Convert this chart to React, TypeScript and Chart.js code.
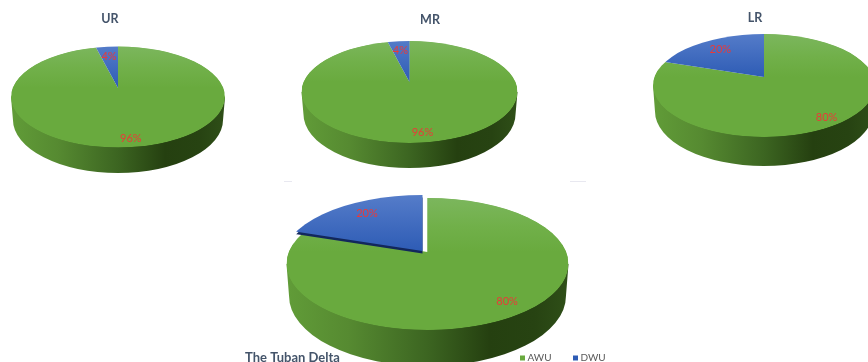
import React, { useEffect, useRef } from "react";
import { Chart, registerables } from "chart.js";

Chart.register(...registerables);

// Water-use shares per river reach, in percent.
const seriesNames = ["AWU", "DWU"];
const panelTitles = ["UR", "MR", "LR", "The Tuban Delta"];
const awuShare = [96, 96, 80, 80];
const dwuShare = [4, 4, 20, 20];

// Placement of each tilted disc on the page.
const discs = [
  { cx: 118, cy: 97, a: 107, b: 50.5, tip: 9, wallBottom: 173, titleX: 110, titleY: 19, dx: 0, dy: 0, clipDy: 0, rim: 0, labelDy: 2 },
  { cx: 409.5, cy: 92, a: 108, b: 51, tip: 10, wallBottom: 168, titleX: 430, titleY: 20, dx: 0, dy: 0, clipDy: 0, rim: 0, labelDy: 2 },
  { cx: 764, cy: 85.5, a: 111, b: 51.5, tip: 8.5, wallBottom: 166, titleX: 755, titleY: 18, dx: 0, dy: 0, clipDy: 0, rim: 0, labelDy: 0.5 },
  { cx: 427.5, cy: 264, a: 141, b: 66, tip: 12, wallBottom: 366, titleX: 292.5, titleY: 358, dx: -5, dy: -1, clipDy: -3, rim: 2.5, labelDy: -2 },
];

const GREEN = "#69aa3e";
const BLUE = "#2e5cb5";
const LABEL_RED = "#ea3a38";
const TITLE_INK = "#44546a";
const LEGEND_INK = "#595959";
const FONT = "Lato, 'Open Sans', sans-serif";

type Disc = (typeof discs)[number];

function ellipsePath(ctx: CanvasRenderingContext2D, d: Disc, ox = 0, oy = 0) {
  ctx.beginPath();
  ctx.ellipse(d.cx + ox, d.cy + oy, d.a, d.b, 0, 0, Math.PI * 2);
}

// Side wall of the disc: lower half of a slightly narrower ellipse, lit from the left.
function drawWall(ctx: CanvasRenderingContext2D, d: Disc) {
  const inset = d.a * 0.018;
  const bottomB = d.b * 1.06;
  const wallCy = d.wallBottom - bottomB;
  const g = ctx.createLinearGradient(d.cx - d.a, 0, d.cx + d.a, 0);
  g.addColorStop(0, "#619c38");
  g.addColorStop(0.22, "#568a31");
  g.addColorStop(0.5, "#3c6521");
  g.addColorStop(0.72, "#254010");
  g.addColorStop(0.88, "#274312");
  g.addColorStop(1, "#2f4f18");
  ctx.fillStyle = g;
  ctx.beginPath();
  ctx.moveTo(d.cx - d.a, d.cy);
  ctx.lineTo(d.cx - d.a + inset, wallCy);
  ctx.ellipse(d.cx, wallCy, d.a - inset, bottomB, 0, Math.PI, 0, true);
  ctx.lineTo(d.cx + d.a, d.cy);
  ctx.closePath();
  ctx.fill();
}

function facePlugin(index: number) {
  const d = discs[index];
  return {
    id: "tiltedFace",
    beforeDatasetsDraw(chart: any) {
      const ctx: CanvasRenderingContext2D = chart.ctx;
      const arcs = chart.getDatasetMeta(0).data;
      const [awuArc, dwuArc] = arcs;
      const r = awuArc.outerRadius;
      // Maps the library's round pie on to the ellipse of the top face.
      const project = (ox: number, oy: number) => {
        ctx.translate(d.cx + ox, d.cy + oy);
        ctx.scale(d.a / r, d.b / r);
        ctx.translate(-awuArc.x, -awuArc.y);
      };

      drawWall(ctx, d);

      ctx.save();
      ellipsePath(ctx, d);
      ctx.clip();
      ctx.save();
      project(0, 0);
      awuArc.draw(ctx);
      ctx.restore();
      ctx.save();
      project(0, -d.tip);
      awuArc.draw(ctx);
      ctx.restore();
      ctx.restore();

      if (d.rim) {
        ctx.save();
        ellipsePath(ctx, d, d.dx, d.clipDy + d.rim);
        ctx.clip();
        project(d.dx, d.dy - d.tip + d.rim);
        ctx.fillStyle = "#12275c";
        ctx.beginPath();
        ctx.moveTo(dwuArc.x, dwuArc.y);
        ctx.arc(dwuArc.x, dwuArc.y, r, dwuArc.startAngle, dwuArc.endAngle);
        ctx.closePath();
        ctx.fill();
        ctx.restore();
      }

      ctx.save();
      ellipsePath(ctx, d, d.dx, d.clipDy);
      ctx.clip();
      project(d.dx, d.dy - d.tip);
      dwuArc.draw(ctx);
      ctx.restore();

      // Percent labels, placed along each slice's mid-angle.
      const values = chart.data.datasets[0].data;
      ctx.font = `11px ${FONT}`;
      ctx.fillStyle = LABEL_RED;
      ctx.textAlign = "center";
      ctx.textBaseline = "middle";
      arcs.forEach((arc: any, i: number) => {
        const mid = (arc.startAngle + arc.endAngle) / 2;
        const reach = i === 0 ? 0.96 : 0.67;
        const ox = i === 0 ? 0 : d.dx;
        const oy = i === 0 ? 0 : d.dy;
        const x = d.cx + ox + Math.cos(mid) * reach * d.a;
        const y = d.cy - d.tip + oy + d.labelDy + Math.sin(mid) * reach * d.b;
        ctx.fillText(`${values[i]}%`, x, y);
      });

      // Panel title.
      ctx.font = `bold ${index === 3 ? 13 : 12.5}px ${FONT}`;
      ctx.fillStyle = TITLE_INK;
      ctx.fillText(panelTitles[index], d.titleX, d.titleY);

      // Shared legend beside the last panel.
      if (index === 3) {
        const keys = [
          { x: 520, color: GREEN },
          { x: 573, color: BLUE },
        ];
        ctx.font = `10px ${FONT}`;
        ctx.textAlign = "left";
        keys.forEach((key, i) => {
          ctx.fillStyle = key.color;
          ctx.fillRect(key.x, 355.5, 5, 5);
          ctx.fillStyle = LEGEND_INK;
          ctx.fillText(seriesNames[i], key.x + 7.5, 358);
        });
      }
      return false;
    },
  };
}

function PiePanel({ index }: { index: number }) {
  const ref = useRef<HTMLCanvasElement>(null);
  useEffect(() => {
    const chart = new Chart(ref.current!, {
      type: "pie",
      data: {
        labels: seriesNames,
        datasets: [
          {
            data: [awuShare[index], dwuShare[index]],
            borderWidth: 0,
            backgroundColor: (c: any) => {
              const area = c.chart.chartArea;
              const solid = c.dataIndex === 0 ? GREEN : BLUE;
              if (!area) return solid;
              const g = c.chart.ctx.createLinearGradient(0, area.top, 0, area.bottom);
              if (c.dataIndex === 0) {
                g.addColorStop(0, "#80b965");
                g.addColorStop(0.3, "#71b04a");
                g.addColorStop(0.5, GREEN);
                g.addColorStop(1, GREEN);
              } else {
                g.addColorStop(0, "#5c82cd");
                g.addColorStop(0.5, BLUE);
                g.addColorStop(1, BLUE);
              }
              return g;
            },
          },
        ],
      },
      options: {
        responsive: false,
        animation: false,
        events: [],
        layout: { padding: 0 },
        plugins: { legend: { display: false }, tooltip: { enabled: false } },
      },
      plugins: [facePlugin(index)],
    });
    return () => chart.destroy();
  }, [index]);
  return (
    <canvas
      ref={ref}
      width={868}
      height={362}
      style={{ position: "absolute", left: 0, top: 0, width: 868, height: 362 }}
    />
  );
}

export default function App() {
  return (
    <div
      style={{
        position: "fixed",
        left: 0,
        top: 0,
        width: 868,
        height: 362,
        overflow: "hidden",
        background: "#fff",
      }}
    >
      {panelTitles.map((t, i) => (
        <PiePanel key={t} index={i} />
      ))}
      <div style={{ position: "absolute", left: 284, top: 181, width: 8, height: 1, background: "#e8e8f0" }} />
      <div style={{ position: "absolute", left: 570, top: 181, width: 16, height: 1, background: "#e8e8f0" }} />
    </div>
  );
}
